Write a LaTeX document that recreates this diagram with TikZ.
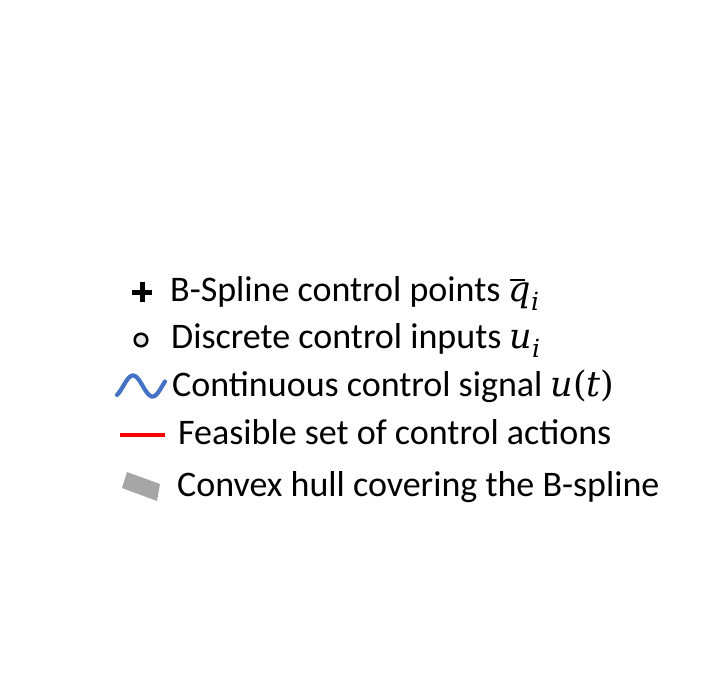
\documentclass[tikz,border=0pt]{standalone}
\usepackage{fontspec}
\setmainfont{Carlito}
\newfontfamily\mfont{DejaVu Serif}
\definecolor{waveblue}{HTML}{4472C4}
\definecolor{hullgray}{HTML}{A6A6A6}
\definecolor{dotfill}{HTML}{E8E8E8}
\newcommand\msize{\fontsize{35}{40}\selectfont}
\newcommand\lsub[1]{\raisebox{-0.26em}{\fontsize{25}{25}\selectfont\mfont\itshape #1}}
\newcommand\lvar[1]{{\msize\mfont\itshape #1}}
\newcommand\lpar[1]{{\msize\mfont #1}}
\newcommand\lbarq{\rlap{\raisebox{0.56em}{\hspace{0.04em}\rule{0.42em}{0.05em}}}\lvar{q}}
\begin{document}
\begin{tikzpicture}[x=1pt,y=-1pt,
  label/.style={anchor=base west,inner sep=0pt,font=\fontsize{36}{40}\selectfont}]
\useasboundingbox (0,0) rectangle (725,691);
% legend markers
\draw[line width=5pt] (132,292) -- (152,292) (142,282) -- (142,302);
\draw[line width=2.5pt,fill=dotfill] (141,340) circle (6.3);
\draw[waveblue,line width=4.2pt,line cap=round]
  plot[domain=117:165,samples=60,smooth] (\x,{386-10.5*cos(360*(\x-133)/39)});
\draw[red,line width=4.2pt] (120,435) -- (165,435);
\fill[hullgray] (127,472) -- (160,484) -- (157,501) -- (122,488) -- cycle;
% legend entries
\node[label] (t1) at (170,301) {B-Spline control points \lbarq\lsub{i}};
\node[label] (t2) at (171,348) {Discrete control inputs \lvar{u}\lsub{i}};
\node[label] (t3) at (172,396) {Continuous control signal \lvar{u}\lpar{(}\lvar{t}\lpar{)}};
\node[label] (t4) at (178,444) {Feasible set of control actions};
\node[label] (t5) at (177,496) {Convex hull covering the B-spline};
\end{tikzpicture}
\end{document}
